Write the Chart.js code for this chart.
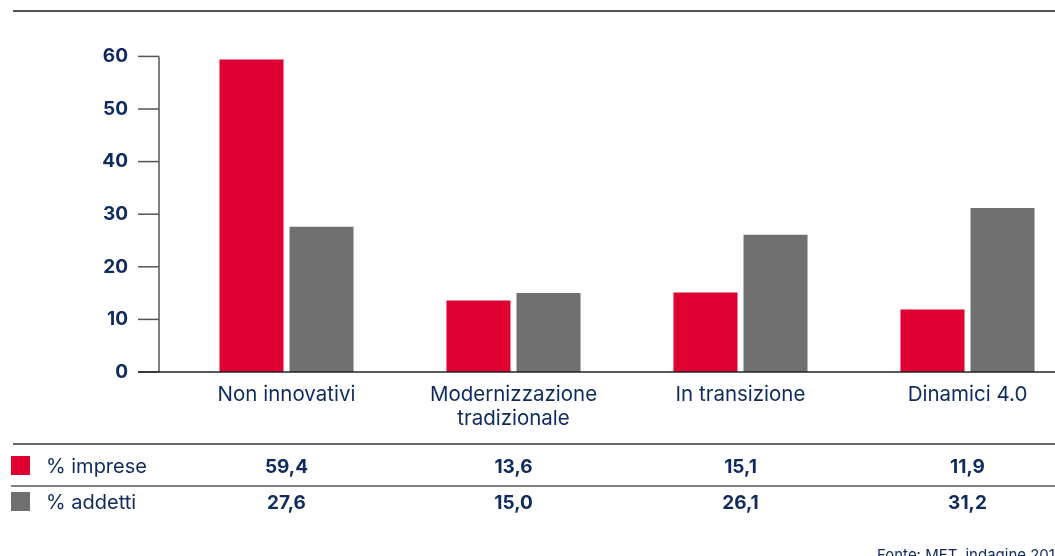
<!DOCTYPE html>
<html>
<head>
<meta charset="utf-8">
<script src="https://cdn.jsdelivr.net/npm/chart.js@4/dist/chart.umd.min.js"></script>
<style>
  html, body { margin: 0; padding: 0; background: #fff; overflow: hidden; }
  #wrap { position: absolute; left: 0; top: 0; width: 1100px; height: 556px; }
</style>
</head>
<body>
<div id="wrap"><canvas id="chart"></canvas></div>
<script>
const categories = ["Non innovativi", ["Modernizzazione", "tradizionale"], "In transizione", "Dinamici 4.0"];
const seriesNames = ["% imprese", "% addetti"];
const impreseValues = [59.4, 13.6, 15.1, 11.9];
const addettiValues = [27.6, 15.0, 26.1, 31.2];
const yTickValues = [0, 10, 20, 30, 40, 50, 60];
const sourceNote = "Fonte: MET, indagine 2019";

const NAVY = "#0f2a5e";
const RED = "#de0030";
const GREY = "#707070";
const FONT = "Inter, 'Noto Sans', sans-serif";

function fmt(v) {
  return v.toFixed(1).replace(".", ",");
}

const frame = {
  id: "frame",
  afterDraw(chart) {
    const { ctx, chartArea, scales } = chart;
    const x = scales.x;
    const y = scales.y;
    const right = 1055;
    ctx.save();

    // top rule
    ctx.strokeStyle = "#1a1a1a";
    ctx.lineWidth = 1.5;
    ctx.beginPath();
    ctx.moveTo(13, 11);
    ctx.lineTo(right, 11);
    ctx.stroke();

    // y axis + ticks
    const axisX = 159;
    ctx.strokeStyle = "#555";
    ctx.lineWidth = 1.5;
    ctx.beginPath();
    ctx.moveTo(axisX, y.getPixelForValue(yTickValues[yTickValues.length - 1]));
    ctx.lineTo(axisX, chartArea.bottom);
    ctx.stroke();
    yTickValues.forEach((v) => {
      const py = y.getPixelForValue(v);
      ctx.beginPath();
      ctx.moveTo(138, py);
      ctx.lineTo(axisX, py);
      ctx.stroke();
    });

    // x axis
    ctx.strokeStyle = "#222";
    ctx.beginPath();
    ctx.moveTo(138, chartArea.bottom);
    ctx.lineTo(right, chartArea.bottom);
    ctx.stroke();

    // table rules
    ctx.strokeStyle = "#333";
    ctx.beginPath();
    ctx.moveTo(13, 444);
    ctx.lineTo(right, 444);
    ctx.stroke();
    ctx.strokeStyle = "#555";
    ctx.beginPath();
    ctx.moveTo(11, 486);
    ctx.lineTo(right, 486);
    ctx.stroke();

    // table rows
    const rows = [
      { name: seriesNames[0], color: RED, values: impreseValues, cy: 467 },
      { name: seriesNames[1], color: GREY, values: addettiValues, cy: 503 },
    ];
    ctx.textBaseline = "middle";
    rows.forEach((row) => {
      ctx.fillStyle = row.color;
      ctx.fillRect(11, row.cy - 11, 19, 19);
      ctx.fillStyle = NAVY;
      ctx.font = "20px " + FONT;
      ctx.textAlign = "left";
      ctx.fillText(row.name, 46, row.cy);
      ctx.font = "bold 19px " + FONT;
      ctx.textAlign = "center";
      row.values.forEach((v, i) => {
        ctx.fillText(fmt(v), x.getPixelForValue(i), row.cy);
      });
    });

    // source note (cut at the edges like the original)
    ctx.font = "15px " + FONT;
    ctx.textAlign = "left";
    ctx.textBaseline = "alphabetic";
    ctx.fillText(sourceNote, 877, 560);

    ctx.restore();
  },
};

new Chart(document.getElementById("chart"), {
  type: "bar",
  data: {
    labels: categories,
    datasets: [
      {
        label: seriesNames[0],
        data: impreseValues,
        backgroundColor: RED,
        borderWidth: 0,
        barPercentage: 0.914,
        categoryPercentage: 0.617,
      },
      {
        label: seriesNames[1],
        data: addettiValues,
        backgroundColor: GREY,
        borderWidth: 0,
        barPercentage: 0.914,
        categoryPercentage: 0.617,
      },
    ],
  },
  options: {
    responsive: true,
    maintainAspectRatio: false,
    animation: false,
    layout: { padding: { top: 55, right: 19, bottom: 0, left: 0 } },
    plugins: {
      legend: { display: false },
      tooltip: { enabled: false },
    },
    scales: {
      x: {
        grid: { display: false, drawTicks: false },
        border: { display: false },
        ticks: {
          color: NAVY,
          font: { family: FONT, size: 20.5, lineHeight: 1.17 },
          padding: 11,
          maxRotation: 0,
          autoSkip: false,
        },
        afterFit(scale) {
          scale.height = 184;
        },
      },
      y: {
        min: 0,
        max: 60,
        grid: { display: false, drawTicks: false },
        border: { display: false },
        ticks: {
          stepSize: 10,
          color: NAVY,
          font: { family: FONT, size: 19, weight: "bold" },
          padding: 45,
        },
        afterFit(scale) {
          scale.width = 173;
        },
      },
    },
  },
  plugins: [frame],
});
</script>
</body>
</html>
